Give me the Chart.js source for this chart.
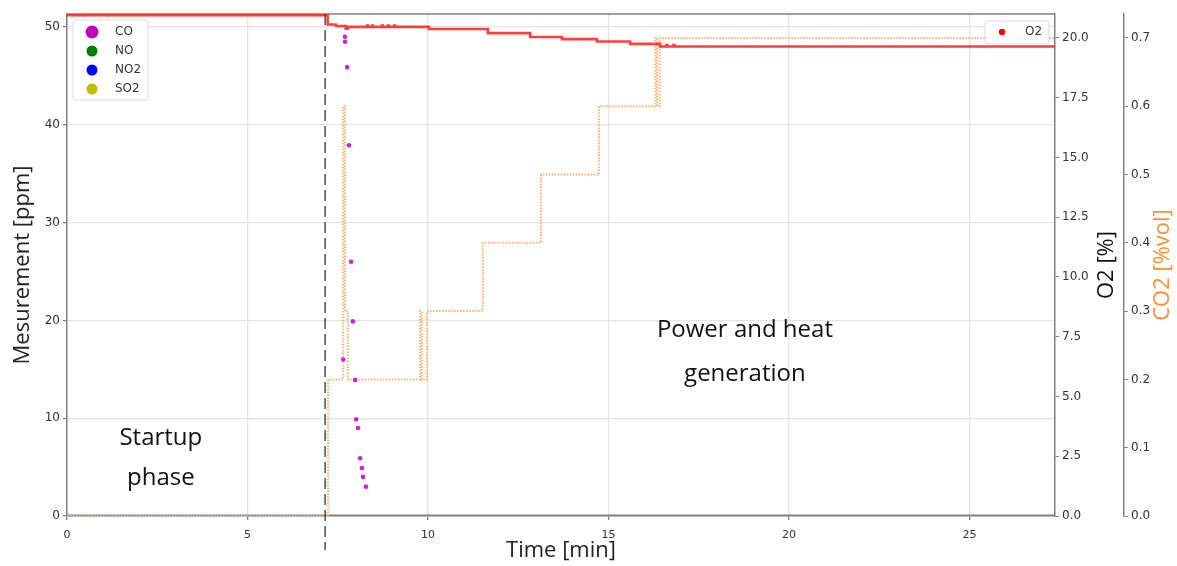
<!DOCTYPE html>
<html>
<head>
<meta charset="utf-8">
<script src="https://cdn.jsdelivr.net/npm/chart.js@4.4.1/dist/chart.umd.min.js"></script>
<style>
  html, body { margin: 0; padding: 0; background: #fff; }
</style>
</head>
<body>
<canvas id="chart" width="1177" height="566"></canvas>
<script>
// time axis [min]
const xMax = 27.37;
const phaseSplit = 7.15;
const xTicks = [0, 5, 10, 15, 20, 25];

// O2 [%] (red, stepped)
const o2Time = [0, 7.22, 7.45, 7.72, 7.78, 8.31, 8.34, 8.45, 8.48, 8.72, 8.75, 8.89, 8.92, 9.06, 9.09,
  10.03, 11.66, 12.83, 13.71, 14.68, 15.6, 16.43, 16.6, 16.63, 16.8, 16.83, xMax];
const o2Vals = [20.95, 20.56, 20.5, 20.38, 20.46, 20.52, 20.46, 20.52, 20.46, 20.52, 20.46, 20.52, 20.46, 20.52, 20.46,
  20.37, 20.2, 20.04, 19.95, 19.85, 19.75, 19.64, 19.7, 19.64, 19.7, 19.64, 19.64];

// CO2 [%vol] (orange, stepped)
const co2Time = [0, 7.23, 7.65, 7.7, 7.78, 9.78, 9.83, 9.97, 11.52, 13.13, 14.74, 16.3, 16.35, 16.42, xMax];
const co2Vals = [0, 0.2, 0.6, 0.3, 0.2, 0.3, 0.2, 0.3, 0.4, 0.5, 0.6, 0.7, 0.6, 0.7, 0.7];

// CO [ppm] scatter
const coTime = [7.70, 7.70, 7.76, 7.81, 7.87, 7.92, 7.65, 7.98, 8.01, 8.06, 8.12, 8.17, 8.20, 8.28];
const coVals = [49.0, 48.5, 45.9, 37.9, 26.0, 19.9, 16.0, 13.9, 9.9, 9.0, 5.9, 4.9, 4.0, 3.0];

// NO, NO2, SO2 stay at zero the whole run
const zeroTime = [0, xMax];
const noVals = [0, 0];
const no2Vals = [0, 0];
const so2Vals = [0, 0];

const pts = (xs, ys) => xs.map((x, i) => ({ x: x, y: ys[i] }));

const tickFont = { family: 'DejaVu Sans', size: 12 };
const gridColor = '#e3e3e3';
const spine = '#808080';

function roundBox(ctx, x, y, w, h, r) {
  ctx.beginPath();
  ctx.moveTo(x + r, y);
  ctx.arcTo(x + w, y, x + w, y + h, r);
  ctx.arcTo(x + w, y + h, x, y + h, r);
  ctx.arcTo(x, y + h, x, y, r);
  ctx.arcTo(x, y, x + w, y, r);
  ctx.closePath();
  ctx.fillStyle = 'rgba(255,255,255,0.85)';
  ctx.fill();
  ctx.strokeStyle = '#dadada';
  ctx.lineWidth = 1;
  ctx.stroke();
}

const overlay = {
  id: 'overlay',
  beforeDatasetsDraw(chart) {
    const { ctx, chartArea: a } = chart;
    ctx.save();
    ctx.strokeStyle = spine;
    ctx.lineWidth = 1.5;
    ctx.beginPath();
    ctx.moveTo(a.left, a.top);
    ctx.lineTo(a.right, a.top);
    ctx.stroke();
    ctx.restore();
  },
  afterDraw(chart) {
    const { ctx, chartArea: a, scales } = chart;
    ctx.save();

    // phase split
    const px = scales.x.getPixelForValue(phaseSplit);
    ctx.setLineDash([11, 5]);
    ctx.strokeStyle = '#333';
    ctx.lineWidth = 1.3;
    ctx.beginPath();
    ctx.moveTo(px, a.top);
    ctx.lineTo(px, a.bottom + 34);
    ctx.stroke();
    ctx.setLineDash([]);

    // phase labels
    ctx.fillStyle = '#111';
    ctx.font = '24px "Open Sans"';
    ctx.textAlign = 'center';
    ctx.textBaseline = 'middle';
    const sx = scales.x.getPixelForValue(2.6);
    ctx.fillText('Startup', sx, scales.y.getPixelForValue(8.0));
    ctx.fillText('phase', sx, scales.y.getPixelForValue(3.9));
    const gx = scales.x.getPixelForValue(18.78);
    ctx.fillText('Power and heat', gx, scales.y.getPixelForValue(19.0));
    ctx.fillText('generation', gx, scales.y.getPixelForValue(14.5));

    // right axis titles (reading upwards)
    const midY = (a.top + a.bottom) / 2;
    ctx.font = '22px "Open Sans"';
    ctx.save();
    ctx.translate(1107, midY);
    ctx.rotate(-Math.PI / 2);
    ctx.fillStyle = '#111';
    ctx.fillText('O2 [%]', 0, 0);
    ctx.restore();
    ctx.save();
    ctx.translate(1163, midY);
    ctx.rotate(-Math.PI / 2);
    ctx.fillStyle = '#ff8c2e';
    ctx.fillText('CO2 [%vol]', 0, 0);
    ctx.restore();

    // gas legend
    roundBox(ctx, 73, 20, 75, 80, 3);
    const gas = [['CO', '#bf00bf', 6.5], ['NO', '#008000', 5.5], ['NO2', '#0000ff', 5.5], ['SO2', '#bfbf00', 5.5]];
    ctx.font = '12px "DejaVu Sans"';
    ctx.textAlign = 'left';
    gas.forEach((g, i) => {
      const yy = 32 + i * 19;
      ctx.fillStyle = g[1];
      ctx.beginPath();
      ctx.arc(92, yy, g[2], 0, Math.PI * 2);
      ctx.fill();
      ctx.fillStyle = '#333';
      ctx.fillText(g[0], 115, yy);
    });

    // O2 legend
    roundBox(ctx, 985, 21, 64, 23, 3);
    ctx.fillStyle = '#ff0000';
    ctx.beginPath();
    ctx.arc(1002, 32, 3.2, 0, Math.PI * 2);
    ctx.fill();
    ctx.fillStyle = '#333';
    ctx.fillText('O2', 1025, 32);

    ctx.restore();
  }
};

new Chart(document.getElementById('chart'), {
  type: 'scatter',
  data: {
    datasets: [
      {
        label: 'CO', data: pts(coTime, coVals), yAxisID: 'y', order: 0,
        showLine: false, pointRadius: 2.3, pointBackgroundColor: '#cc22dd', pointBorderWidth: 0
      },
      {
        label: 'O2', data: pts(o2Time, o2Vals), yAxisID: 'yO2', order: 1,
        showLine: true, stepped: true, borderColor: 'rgba(255,40,40,0.9)', borderWidth: 2.6, pointRadius: 0
      },
      {
        label: 'CO2', data: pts(co2Time, co2Vals), yAxisID: 'yCO2', order: 2,
        showLine: true, stepped: true, borderColor: '#ffb070', borderWidth: 2, borderDash: [1.5, 1.5], pointRadius: 0
      },
      {
        label: 'SO2', data: pts(zeroTime, so2Vals), yAxisID: 'y', order: 3,
        showLine: true, borderColor: '#8a8650', borderWidth: 3, pointRadius: 0
      },
      {
        label: 'NO2', data: pts(zeroTime, no2Vals), yAxisID: 'y', order: 4,
        showLine: true, borderColor: '#0000ff', borderWidth: 2, pointRadius: 0
      },
      {
        label: 'NO', data: pts(zeroTime, noVals), yAxisID: 'y', order: 5,
        showLine: true, borderColor: '#008000', borderWidth: 2, pointRadius: 0
      }
    ]
  },
  options: {
    responsive: false,
    animation: false,
    devicePixelRatio: 1,
    layout: { padding: { top: 14, left: 0, right: 0, bottom: 0 } },
    plugins: { legend: { display: false }, tooltip: { enabled: false } },
    scales: {
      x: {
        type: 'linear', min: 0, max: xMax,
        afterFit(s) { s.height = 50; },
        afterBuildTicks(s) { s.ticks = xTicks.map(v => ({ value: v })); },
        ticks: { color: '#333', font: { family: 'DejaVu Sans', size: 11 }, padding: 9, maxRotation: 0 },
        grid: { color: gridColor, lineWidth: 1.3, tickLength: 4, tickColor: spine },
        border: { color: spine, width: 1.5 },
        title: { display: true, text: 'Time [min]', color: '#222', font: { family: 'Open Sans', size: 22 }, padding: { top: 0, bottom: 2 } }
      },
      y: {
        position: 'left', min: 0, max: 51.33,
        afterFit(s) { s.width = 67; },
        ticks: { stepSize: 10, includeBounds: false, color: '#333', font: tickFont, padding: 3 },
        grid: { color: gridColor, lineWidth: 1.3, tickLength: 4, tickColor: spine },
        border: { color: spine, width: 1.5 },
        title: { display: true, text: 'Mesurement [ppm]', color: '#222', font: { family: 'Open Sans', size: 22 }, padding: { top: 10, bottom: 0 } }
      },
      yO2: {
        position: 'right', min: 0, max: 21.0,
        afterFit(s) { s.width = 69; },
        ticks: { stepSize: 2.5, includeBounds: false, color: '#333', font: tickFont, padding: 3, callback: v => v.toFixed(1) },
        grid: { drawOnChartArea: false, tickLength: 4, tickColor: spine },
        border: { color: spine, width: 1.5 }
      },
      yCO2: {
        position: 'right', min: 0, max: 0.735,
        afterFit(s) { s.width = 53; },
        ticks: { stepSize: 0.1, includeBounds: false, color: '#333', font: tickFont, padding: 3, callback: v => v.toFixed(1) },
        grid: { drawOnChartArea: false, tickLength: 4, tickColor: spine },
        border: { color: spine, width: 1.5 }
      }
    }
  },
  plugins: [overlay]
});
</script>
</body>
</html>
